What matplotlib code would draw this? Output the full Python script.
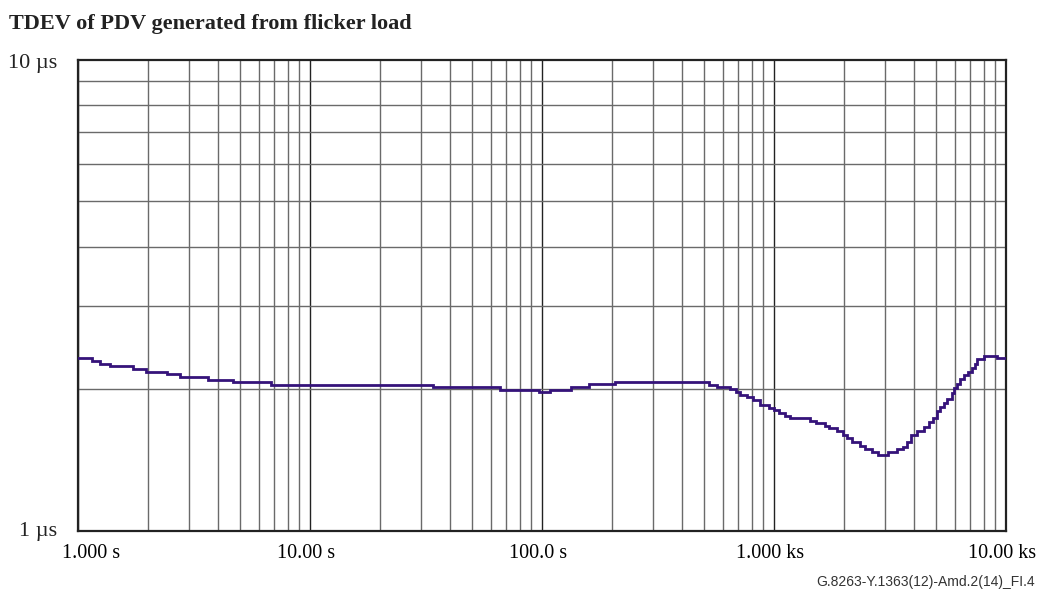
import matplotlib
matplotlib.use("Agg")
import matplotlib.pyplot as plt
import matplotlib.transforms as mtransforms
from matplotlib.ticker import LogLocator, NullFormatter

# Observation interval tau (s), step start points
tau_s = [1.0, 1.149, 1.244, 1.374, 1.726, 1.964, 2.419, 2.752, 3.634, 4.658,
         6.789, 33.9, 65.9, 97.1, 108.3, 133.4, 159.4, 206.4, 524.6, 568,
         646, 686, 714, 765, 812, 870, 951, 1000, 1051, 1115,
         1172, 1429, 1518, 1659, 1726, 1869, 1983, 2064, 2169, 2348,
         2468, 2646, 2808, 3100, 3390, 3597, 3744, 3895, 4134, 4433,
         4658, 4845, 5042, 5194, 5405, 5568, 5851, 5969, 6149, 6336,
         6592, 6859, 7136, 7350, 7499, 8037, 9147, 10000]
# TDEV (microseconds)
tdev_us = [2.321, 2.291, 2.261, 2.232, 2.203, 2.170, 2.146, 2.118, 2.090, 2.067,
           2.040, 2.014, 1.988, 1.966, 1.988, 2.014, 2.044, 2.067, 2.040, 2.017,
           1.994, 1.968, 1.942, 1.920, 1.893, 1.850, 1.820, 1.800, 1.774, 1.753,
           1.731, 1.711, 1.691, 1.669, 1.648, 1.626, 1.593, 1.568, 1.543, 1.512,
           1.487, 1.468, 1.448, 1.468, 1.487, 1.506, 1.543, 1.595, 1.628, 1.661,
           1.702, 1.736, 1.796, 1.832, 1.868, 1.899, 1.956, 2.004, 2.044, 2.094,
           2.138, 2.168, 2.210, 2.257, 2.313, 2.350, 2.321, 2.321]

x_ticks = [1, 10, 100, 1000, 10000]
x_tick_labels = ["1.000 s", "10.00 s", "100.0 s", "1.000 ks", "10.00 ks"]
y_labels = ["10 µs", "1 µs"]
title = "TDEV of PDV generated from flicker load"
footer = "G.8263-Y.1363(12)-Amd.2(14)_FI.4"

fig = plt.figure(figsize=(10.39, 5.91), dpi=100)
ax = fig.add_axes([78 / 1039, 1 - 530.5 / 591, 928 / 1039, 471 / 591])

ax.plot(tau_s, tdev_us, drawstyle="steps-post", color="#35137a", lw=2.0,
        solid_joinstyle="miter", zorder=3)

ax.set_xscale("log")
ax.set_yscale("log")
ax.set_xlim(1, 10000)
ax.set_ylim(1, 10)

ax.xaxis.set_major_locator(LogLocator(base=10, numticks=10))
ax.xaxis.set_minor_locator(LogLocator(base=10, subs=range(2, 10), numticks=50))
ax.yaxis.set_minor_locator(LogLocator(base=10, subs=range(2, 10), numticks=50))
ax.xaxis.set_minor_formatter(NullFormatter())
ax.yaxis.set_minor_formatter(NullFormatter())

ax.grid(True, which="major", color="#222222", lw=1.0)
ax.grid(True, which="minor", color="#6a6a6a", lw=1.0)
ax.set_axisbelow(True)

ax.set_xticks(x_ticks)
ax.set_xticklabels(x_tick_labels, fontfamily="Liberation Serif", fontsize=14.5)
ax.set_yticks([])
ax.tick_params(axis="both", which="both", length=0, pad=10)

# shift first x label so it stays inside figure, like reference
lbls = ax.get_xticklabels()
lbls[0].set_transform(lbls[0].get_transform() +
                      mtransforms.ScaledTranslation(13 / 100, 0, fig.dpi_scale_trans))
for l in lbls[1:]:
    l.set_transform(l.get_transform() +
                    mtransforms.ScaledTranslation(-4 / 100, 0, fig.dpi_scale_trans))

for sp in ax.spines.values():
    sp.set_linewidth(1.6)
    sp.set_color("#222222")

fig.text(9 / 1039, 1 - 28.5 / 591, title, fontfamily="Liberation Serif",
         fontweight="bold", fontsize=16, va="baseline", ha="left", color="#222222")
fig.text(57 / 1039, 1 - 68 / 591, y_labels[0], fontfamily="Liberation Serif",
         fontsize=16, va="baseline", ha="right", color="#222222")
fig.text(57 / 1039, 1 - 536 / 591, y_labels[1], fontfamily="Liberation Serif",
         fontsize=16, va="baseline", ha="right", color="#222222")
fig.text(1035 / 1039, 1 - 582 / 591, footer, fontfamily="Liberation Sans",
         fontsize=10, va="center", ha="right", color="#333333")

fig.savefig("out.png", dpi=100)
